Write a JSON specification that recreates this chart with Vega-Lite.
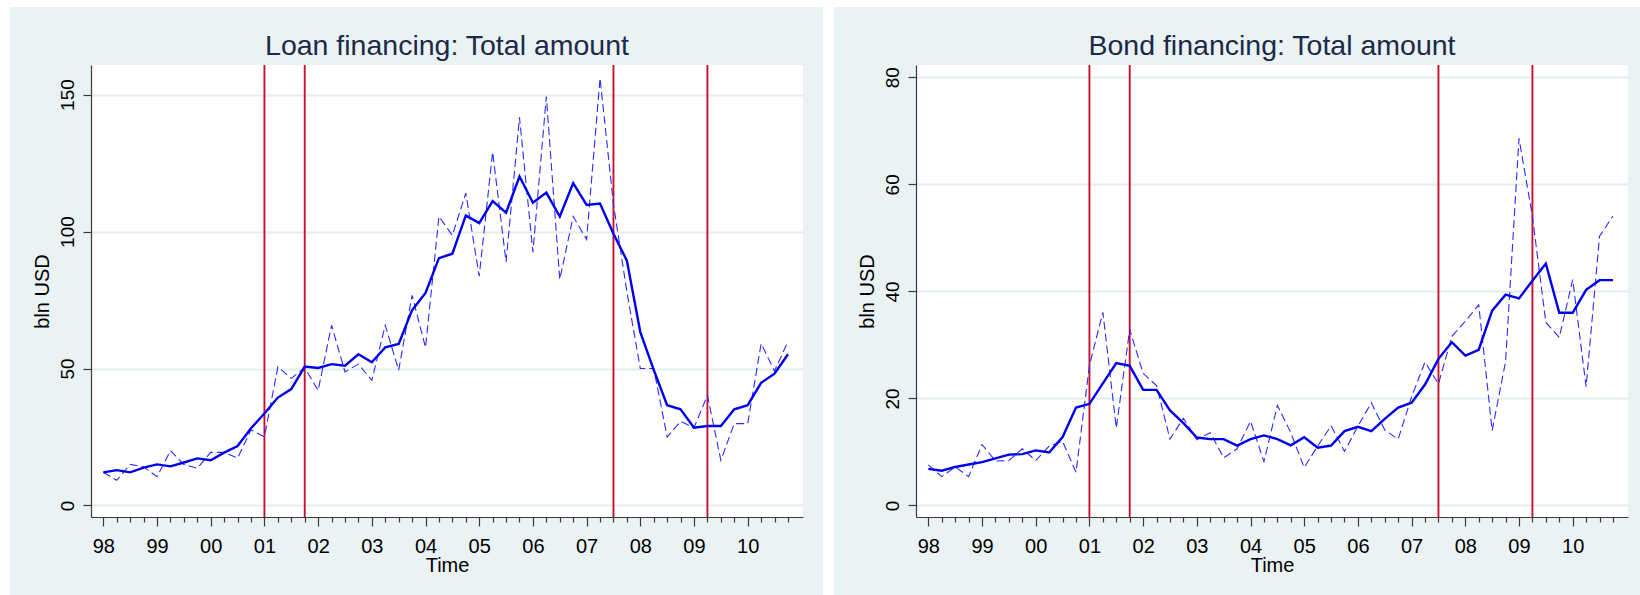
{
  "$schema": "https://vega.github.io/schema/vega-lite/v6.json",
  "background": "#eaf2f3",
  "padding": 0,
  "config": {
    "font": "Liberation Sans",
    "view": {"stroke": null, "fill": "white"},
    "axis": {
      "domainColor": "#3a3a3a",
      "domainWidth": 1.2,
      "tickColor": "#3a3a3a",
      "tickWidth": 1.2,
      "labelColor": "#000000",
      "titleColor": "#000000",
      "titleFontWeight": "normal",
      "titleFontSize": 20,
      "labelFont": "Liberation Sans",
      "titleFont": "Liberation Sans"
    },
    "title": {
      "fontSize": 28.5,
      "fontWeight": "normal",
      "color": "#1c2a4a",
      "frame": "group",
      "anchor": "middle",
      "baseline": "alphabetic",
      "offset": 4
    }
  },
  "datasets": {
    "events": [
      {"t": 2001.0},
      {"t": 2001.75},
      {"t": 2007.5},
      {"t": 2009.25}
    ],
    "loans": [
      {"t": 1998.0, "raw": 12.1, "smooth": 12.1},
      {"t": 1998.25, "raw": 9.2, "smooth": 12.9},
      {"t": 1998.5, "raw": 15.0, "smooth": 12.1},
      {"t": 1998.75, "raw": 14.1, "smooth": 13.8},
      {"t": 1999.0, "raw": 10.5, "smooth": 15.0},
      {"t": 1999.25, "raw": 20.0, "smooth": 14.3},
      {"t": 1999.5, "raw": 15.0, "smooth": 15.7},
      {"t": 1999.75, "raw": 13.6, "smooth": 17.2},
      {"t": 2000.0, "raw": 19.4, "smooth": 16.5},
      {"t": 2000.25, "raw": 19.4, "smooth": 19.3},
      {"t": 2000.5, "raw": 17.3, "smooth": 21.7},
      {"t": 2000.75, "raw": 27.6, "smooth": 28.2},
      {"t": 2001.0, "raw": 25.0, "smooth": 33.6},
      {"t": 2001.25, "raw": 50.6, "smooth": 39.4},
      {"t": 2001.5, "raw": 46.4, "smooth": 42.5},
      {"t": 2001.75, "raw": 50.3, "smooth": 50.7},
      {"t": 2002.0, "raw": 42.0, "smooth": 50.2},
      {"t": 2002.25, "raw": 65.8, "smooth": 51.6},
      {"t": 2002.5, "raw": 48.8, "smooth": 51.0},
      {"t": 2002.75, "raw": 51.6, "smooth": 55.2},
      {"t": 2003.0, "raw": 45.7, "smooth": 52.3},
      {"t": 2003.25, "raw": 65.8, "smooth": 57.7},
      {"t": 2003.5, "raw": 49.4, "smooth": 59.0},
      {"t": 2003.75, "raw": 76.7, "smooth": 71.3},
      {"t": 2004.0, "raw": 57.7, "smooth": 77.6},
      {"t": 2004.25, "raw": 105.5, "smooth": 90.3},
      {"t": 2004.5, "raw": 98.6, "smooth": 91.9},
      {"t": 2004.75, "raw": 114.0, "smooth": 105.9},
      {"t": 2005.0, "raw": 83.7, "smooth": 103.1},
      {"t": 2005.25, "raw": 129.0, "smooth": 111.1},
      {"t": 2005.5, "raw": 88.9, "smooth": 106.9},
      {"t": 2005.75, "raw": 141.7, "smooth": 120.1},
      {"t": 2006.0, "raw": 92.5, "smooth": 110.5},
      {"t": 2006.25, "raw": 149.3, "smooth": 114.2},
      {"t": 2006.5, "raw": 82.5, "smooth": 105.5},
      {"t": 2006.75, "raw": 105.5, "smooth": 117.7},
      {"t": 2007.0, "raw": 97.1, "smooth": 109.7},
      {"t": 2007.25, "raw": 156.0, "smooth": 110.2},
      {"t": 2007.5, "raw": 110.0, "smooth": 99.2},
      {"t": 2007.75, "raw": 78.0, "smooth": 89.4},
      {"t": 2008.0, "raw": 50.0, "smooth": 63.3},
      {"t": 2008.25, "raw": 50.0, "smooth": 49.5},
      {"t": 2008.5, "raw": 25.0, "smooth": 36.6},
      {"t": 2008.75, "raw": 30.7, "smooth": 35.1},
      {"t": 2009.0, "raw": 28.4, "smooth": 28.4},
      {"t": 2009.25, "raw": 40.2, "smooth": 29.0},
      {"t": 2009.5, "raw": 16.5, "smooth": 29.0},
      {"t": 2009.75, "raw": 29.9, "smooth": 35.1},
      {"t": 2010.0, "raw": 29.9, "smooth": 36.6},
      {"t": 2010.25, "raw": 59.1, "smooth": 44.8},
      {"t": 2010.5, "raw": 49.1, "smooth": 48.1},
      {"t": 2010.75, "raw": 59.9, "smooth": 55.2}
    ],
    "bonds": [
      {"t": 1998.0, "raw": 7.6, "smooth": 6.85},
      {"t": 1998.25, "raw": 5.4, "smooth": 6.5},
      {"t": 1998.5, "raw": 7.2, "smooth": 7.2},
      {"t": 1998.75, "raw": 5.4, "smooth": 7.65},
      {"t": 1999.0, "raw": 11.4, "smooth": 8.1},
      {"t": 1999.25, "raw": 8.3, "smooth": 8.8},
      {"t": 1999.5, "raw": 8.4, "smooth": 9.5},
      {"t": 1999.75, "raw": 10.6, "smooth": 9.6},
      {"t": 2000.0, "raw": 8.4, "smooth": 10.3},
      {"t": 2000.25, "raw": 11.1, "smooth": 9.9},
      {"t": 2000.5, "raw": 12.0, "smooth": 12.8},
      {"t": 2000.75, "raw": 6.2, "smooth": 18.3},
      {"t": 2001.0, "raw": 26.2, "smooth": 19.0},
      {"t": 2001.25, "raw": 36.1, "smooth": 22.8},
      {"t": 2001.5, "raw": 14.5, "smooth": 26.6},
      {"t": 2001.75, "raw": 32.9, "smooth": 26.1},
      {"t": 2002.0, "raw": 24.7, "smooth": 21.6},
      {"t": 2002.25, "raw": 22.4, "smooth": 21.6},
      {"t": 2002.5, "raw": 12.4, "smooth": 17.75},
      {"t": 2002.75, "raw": 16.3, "smooth": 15.4},
      {"t": 2003.0, "raw": 12.3, "smooth": 12.7},
      {"t": 2003.25, "raw": 13.6, "smooth": 12.4},
      {"t": 2003.5, "raw": 8.9, "smooth": 12.4},
      {"t": 2003.75, "raw": 10.6, "smooth": 11.2},
      {"t": 2004.0, "raw": 15.75, "smooth": 12.4},
      {"t": 2004.25, "raw": 8.2, "smooth": 13.1},
      {"t": 2004.5, "raw": 18.7, "smooth": 12.4},
      {"t": 2004.75, "raw": 13.6, "smooth": 11.25},
      {"t": 2005.0, "raw": 7.1, "smooth": 12.75},
      {"t": 2005.25, "raw": 11.1, "smooth": 10.8},
      {"t": 2005.5, "raw": 14.9, "smooth": 11.2},
      {"t": 2005.75, "raw": 10.1, "smooth": 13.9},
      {"t": 2006.0, "raw": 14.8, "smooth": 14.7},
      {"t": 2006.25, "raw": 19.2, "smooth": 13.9},
      {"t": 2006.5, "raw": 14.1, "smooth": 16.2},
      {"t": 2006.75, "raw": 12.4, "smooth": 18.3},
      {"t": 2007.0, "raw": 20.3, "smooth": 19.2},
      {"t": 2007.25, "raw": 26.8, "smooth": 22.6},
      {"t": 2007.5, "raw": 22.7, "smooth": 27.4},
      {"t": 2007.75, "raw": 31.6, "smooth": 30.5},
      {"t": 2008.0, "raw": 34.4, "smooth": 28.0},
      {"t": 2008.25, "raw": 37.5, "smooth": 29.1},
      {"t": 2008.5, "raw": 14.0, "smooth": 36.4},
      {"t": 2008.75, "raw": 26.9, "smooth": 39.4},
      {"t": 2009.0, "raw": 68.6, "smooth": 38.7},
      {"t": 2009.25, "raw": 54.0, "smooth": 42.0},
      {"t": 2009.5, "raw": 34.2, "smooth": 45.2},
      {"t": 2009.75, "raw": 31.4, "smooth": 36.0},
      {"t": 2010.0, "raw": 42.2, "smooth": 36.0},
      {"t": 2010.25, "raw": 22.2, "smooth": 40.3},
      {"t": 2010.5, "raw": 50.3, "smooth": 42.1},
      {"t": 2010.75, "raw": 54.1, "smooth": 42.1}
    ]
  },
  "spacing": 0,
  "resolve": {"scale": {"x": "independent", "y": "independent"}},
  "hconcat": [
    {
      "width": 10,
      "height": 595,
      "data": {"values": [{}]},
      "mark": {"type": "rect", "fill": "white"},
      "encoding": {}
    },
    {
      "spacing": 24,
      "resolve": {"scale": {"x": "independent", "y": "independent"}},
      "vconcat": [
        {
          "width": 813,
          "height": 7,
          "data": {"values": [{}]},
          "mark": {"type": "rect", "fill": "white"},
          "encoding": {}
        },
        {
          "spacing": 21,
          "resolve": {"scale": {"x": "independent", "y": "independent"}},
          "hconcat": [
            {
              "width": 1,
              "height": 1,
              "view": {"fill": null, "stroke": null},
              "data": {"values": [{}]},
              "mark": {"type": "rect", "opacity": 0},
              "encoding": {}
            },
            {
              "width": 712,
              "height": 452,
              "title": "Loan financing: Total amount",
              "data": {"name": "loans"},
              "encoding": {
                "x": {
                  "field": "t",
                  "type": "quantitative",
                  "scale": {"domain": [1997.77, 2011.03], "nice": false, "zero": false},
                  "axis": {
                    "title": "Time",
                    "titlePadding": -1,
                    "grid": false,
                    "values": [1998, 1998.25, 1998.5, 1998.75, 1999, 1999.25, 1999.5, 1999.75, 2000, 2000.25, 2000.5, 2000.75, 2001, 2001.25, 2001.5, 2001.75, 2002, 2002.25, 2002.5, 2002.75, 2003, 2003.25, 2003.5, 2003.75, 2004, 2004.25, 2004.5, 2004.75, 2005, 2005.25, 2005.5, 2005.75, 2006, 2006.25, 2006.5, 2006.75, 2007, 2007.25, 2007.5, 2007.75, 2008, 2008.25, 2008.5, 2008.75, 2009, 2009.25, 2009.5, 2009.75, 2010, 2010.25, 2010.5, 2010.75],
                    "labelExpr": "datum.value % 1 === 0 ? substring(toString(datum.value), 2) : ''",
                    "labelOverlap": false,
                    "labelFlush": false,
                    "labelFontSize": 20,
                    "labelPadding": 10,
                    "tickSize": {"condition": {"test": "datum.value % 1 === 0", "value": 9}, "value": 5}
                  }
                }
              },
              "layer": [
                {
                  "data": {"name": "events"},
                  "mark": {"type": "rule", "color": "#c8102e", "strokeWidth": 1.9}
                },
                {
                  "mark": {"type": "line", "color": "#2a2aff", "strokeWidth": 1.1, "strokeDash": [8, 4]},
                  "encoding": {
                    "y": {
                      "field": "raw",
                      "type": "quantitative",
                      "scale": {"domain": [-4.2, 160.8], "nice": false, "zero": false},
                      "axis": {
                        "title": "bln USD",
                        "titlePadding": 6,
                        "values": [0, 50, 100, 150],
                        "labelAngle": -90,
                        "labelFontSize": 19,
                        "labelPadding": 6,
                        "tickSize": 8,
                        "grid": true,
                        "gridColor": "#e3ecee",
                        "gridWidth": 2
                      }
                    }
                  }
                },
                {
                  "mark": {"type": "line", "color": "#0000ee", "strokeWidth": 2.4},
                  "encoding": {
                    "y": {"field": "smooth", "type": "quantitative", "title": "bln USD"}
                  }
                }
              ]
            }
          ]
        }
      ]
    },
    {
      "width": 11,
      "height": 595,
      "data": {"values": [{}]},
      "mark": {"type": "rect", "fill": "white"},
      "encoding": {}
    },
    {
      "spacing": 24,
      "resolve": {"scale": {"x": "independent", "y": "independent"}},
      "vconcat": [
        {
          "width": 806,
          "height": 7,
          "data": {"values": [{}]},
          "mark": {"type": "rect", "fill": "white"},
          "encoding": {}
        },
        {
          "spacing": 21,
          "resolve": {"scale": {"x": "independent", "y": "independent"}},
          "hconcat": [
            {
              "width": 1,
              "height": 1,
              "view": {"fill": null, "stroke": null},
              "data": {"values": [{}]},
              "mark": {"type": "rect", "opacity": 0},
              "encoding": {}
            },
            {
              "width": 712,
              "height": 452,
              "title": "Bond financing: Total amount",
              "data": {"name": "bonds"},
              "encoding": {
                "x": {
                  "field": "t",
                  "type": "quantitative",
                  "scale": {"domain": [1997.77, 2011.03], "nice": false, "zero": false},
                  "axis": {
                    "title": "Time",
                    "titlePadding": -1,
                    "grid": false,
                    "values": [1998, 1998.25, 1998.5, 1998.75, 1999, 1999.25, 1999.5, 1999.75, 2000, 2000.25, 2000.5, 2000.75, 2001, 2001.25, 2001.5, 2001.75, 2002, 2002.25, 2002.5, 2002.75, 2003, 2003.25, 2003.5, 2003.75, 2004, 2004.25, 2004.5, 2004.75, 2005, 2005.25, 2005.5, 2005.75, 2006, 2006.25, 2006.5, 2006.75, 2007, 2007.25, 2007.5, 2007.75, 2008, 2008.25, 2008.5, 2008.75, 2009, 2009.25, 2009.5, 2009.75, 2010, 2010.25, 2010.5, 2010.75],
                    "labelExpr": "datum.value % 1 === 0 ? substring(toString(datum.value), 2) : ''",
                    "labelOverlap": false,
                    "labelFlush": false,
                    "labelFontSize": 20,
                    "labelPadding": 10,
                    "tickSize": {"condition": {"test": "datum.value % 1 === 0", "value": 9}, "value": 5}
                  }
                }
              },
              "layer": [
                {
                  "data": {"name": "events"},
                  "mark": {"type": "rule", "color": "#c8102e", "strokeWidth": 1.9}
                },
                {
                  "mark": {"type": "line", "color": "#2a2aff", "strokeWidth": 1.1, "strokeDash": [8, 4]},
                  "encoding": {
                    "y": {
                      "field": "raw",
                      "type": "quantitative",
                      "scale": {"domain": [-2.15, 82.3], "nice": false, "zero": false},
                      "axis": {
                        "title": "bln USD",
                        "titlePadding": 6,
                        "values": [0, 20, 40, 60, 80],
                        "labelAngle": -90,
                        "labelFontSize": 19,
                        "labelPadding": 6,
                        "tickSize": 8,
                        "grid": true,
                        "gridColor": "#e3ecee",
                        "gridWidth": 2
                      }
                    }
                  }
                },
                {
                  "mark": {"type": "line", "color": "#0000ee", "strokeWidth": 2.4},
                  "encoding": {
                    "y": {"field": "smooth", "type": "quantitative", "title": "bln USD"}
                  }
                }
              ]
            }
          ]
        }
      ]
    }
  ]
}
